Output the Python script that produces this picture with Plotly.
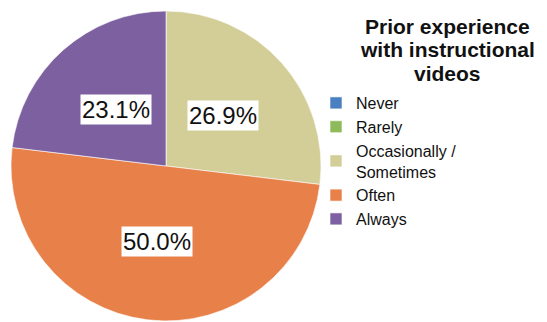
import math
import plotly.graph_objects as go

categories = ["Never", "Rarely", "Occasionally /<br>Sometimes", "Often", "Always"]
values = [0.0, 0.0, 26.9, 50.0, 23.1]
colors = ["#4a7fc1", "#8fba5a", "#d3ce98", "#e8804a", "#7d60a0"]
legend_title_lines = ["Prior experience", "with instructional", "videos"]

W, H = 547, 322
dom_x = [11 / W, 321 / W]
dom_y = [1 - 321 / H, 1 - 11 / H]
FONT = "Liberation Sans, Arial"

fig = go.Figure()
fig.add_trace(go.Pie(
    labels=categories,
    values=values,
    marker=dict(colors=colors, line=dict(color="rgba(255,255,255,0.6)", width=1)),
    sort=False,
    direction="clockwise",
    rotation=0,
    textinfo="none",
    hoverinfo="label+percent",
    domain=dict(x=dom_x, y=dom_y),
    showlegend=True,
))

# percentage labels in white boxes, placed at each slice's mid-angle
total = sum(values)
cx = (dom_x[0] + dom_x[1]) / 2
cy = (dom_y[0] + dom_y[1]) / 2
R_px = (dom_x[1] - dom_x[0]) * W / 2
cum = 0.0
for v in values:
    if v <= 0:
        continue
    mid = (cum + v / 2) / total * 2 * math.pi
    cum += v
    r = 0.49 * R_px
    dx = r * math.sin(mid) / W
    dy = r * math.cos(mid) / H
    fig.add_annotation(
        x=cx + dx, y=cy + dy, xref="paper", yref="paper",
        xanchor="center", yanchor="middle",
        text=f"{v / total * 100:.1f}%", showarrow=False,
        font=dict(family=FONT, size=24, color="#111111"),
        bgcolor="white", borderpad=1,
    )

for i, line in enumerate(legend_title_lines):
    fig.add_annotation(
        x=447 / W, y=1 - (27 + 23 * i) / H, xref="paper", yref="paper",
        xanchor="center", yanchor="middle", align="center",
        text=f"<b>{line}</b>", showarrow=False,
        font=dict(family=FONT, size=21, color="#111111"),
    )

fig.update_layout(
    width=W, height=H,
    margin=dict(l=0, r=0, t=0, b=0),
    paper_bgcolor="white",
    plot_bgcolor="white",
    font=dict(family=FONT, color="#111111"),
    legend=dict(
        x=316 / W, y=1 - 86 / H, xanchor="left", yanchor="top",
        font=dict(size=16, color="#111111"),
        itemwidth=30, tracegroupgap=0,
        bgcolor="rgba(0,0,0,0)",
        traceorder="normal",
    ),
)

fig.write_html("out.html")
